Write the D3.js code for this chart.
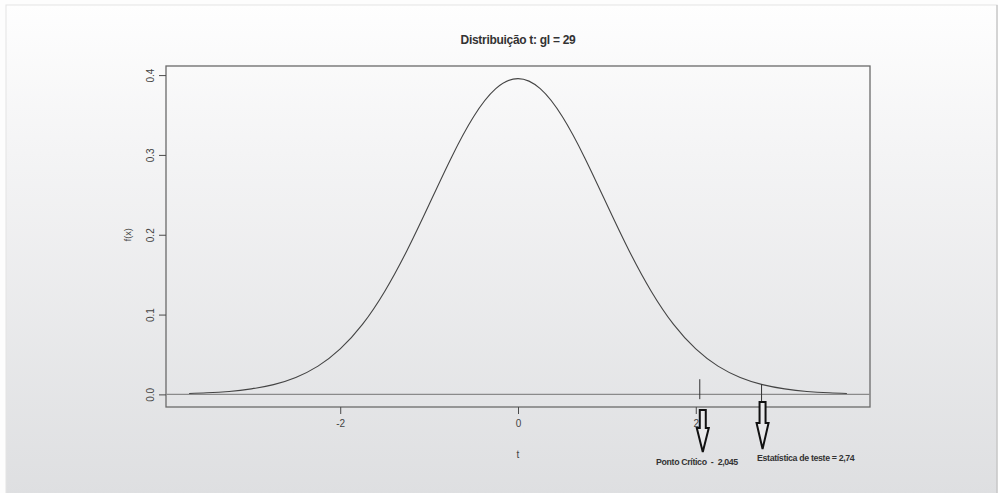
<!DOCTYPE html>
<html>
<head>
<meta charset="utf-8">
<script src="https://cdn.jsdelivr.net/npm/d3@7"></script>
<style>
  body { margin: 0; background: #fdfdfd; }
  text { font-family: "Liberation Sans", Arial, sans-serif; }
</style>
</head>
<body>
<div id="chart"></div>
<script>
// densidade t com gl = 29
const tValues = [-3.7, -3.5, -3.25, -3, -2.75, -2.5, -2.25, -2, -1.75, -1.5, -1.25, -1, -0.75, -0.5, -0.25, 0,
                 0.25, 0.5, 0.75, 1, 1.25, 1.5, 1.75, 2, 2.25, 2.5, 2.75, 3, 3.25, 3.5, 3.7]
const fValues = [0.0012, 0.0020, 0.0037, 0.0069, 0.0122, 0.0212, 0.0354, 0.0570, 0.0877, 0.1290, 0.1800, 0.2379, 0.2966, 0.3478, 0.3830, 0.3956,
                 0.3830, 0.3478, 0.2966, 0.2379, 0.1800, 0.1290, 0.0877, 0.0570, 0.0354, 0.0212, 0.0122, 0.0069, 0.0037, 0.0020, 0.0012]
const xTicks = [-2, 0, 2]
const yTicks = [0.0, 0.1, 0.2, 0.3, 0.4]
const markerLabels = ["Ponto Crítico  -  2,045", "Estatística de teste = 2,74"]
const markerValues = [2.045, 2.74]
const markerTops = [0.019, 0.0127]

const width = 998, height = 493
const svg = d3.select('#chart').append('svg')
  .attr('width', width).attr('height', height)

// fundo com gradiente
const defs = svg.append('defs')
const grad = defs.append('linearGradient').attr('id', 'bg')
  .attr('x1', 0).attr('y1', 0).attr('x2', 0).attr('y2', 1)
grad.append('stop').attr('offset', '0%').attr('stop-color', '#fefefe')
grad.append('stop').attr('offset', '30%').attr('stop-color', '#f4f4f5')
grad.append('stop').attr('offset', '100%').attr('stop-color', '#dedfe1')

svg.append('rect').attr('x', 6).attr('y', 5).attr('width', 991).attr('height', 490)
  .attr('fill', 'url(#bg)').attr('stroke', '#e4e4e4')
svg.append('line').attr('x1', 997).attr('x2', 997).attr('y1', 5).attr('y2', height)
  .attr('stroke', '#b8b8b8')

const plot = {left: 166, right: 870, top: 66, bottom: 407}

const x = d3.scaleLinear().domain([-3.96, 3.96]).range([plot.left, plot.right])
const y = d3.scaleLinear().domain([-0.0158, 0.4114]).range([plot.bottom, plot.top])

const ink = '#4a4a4a'

// titulo
svg.append('text')
  .attr('x', (plot.left + plot.right) / 2).attr('y', 44)
  .attr('text-anchor', 'middle')
  .style('font-size', '12px').style('font-weight', 'bold')
  .style('letter-spacing', '-0.3px')
  .attr('fill', '#333')
  .text('Distribuição t: gl = 29')

// caixa
svg.append('rect')
  .attr('x', plot.left).attr('y', plot.top)
  .attr('width', plot.right - plot.left).attr('height', plot.bottom - plot.top)
  .attr('fill', 'none').attr('stroke', '#6a6a6a').attr('stroke-width', 1.3)

// eixo x
const xAxis = svg.append('g')
  .attr('transform', `translate(0,${plot.bottom})`)
  .call(d3.axisBottom(x).tickValues(xTicks).tickSize(7).tickPadding(6).tickFormat(d => String(d)))
xAxis.select('.domain').remove()
xAxis.selectAll('line').attr('stroke', ink)
xAxis.selectAll('text').attr('fill', '#444').style('font-size', '10px')

svg.append('text')
  .attr('x', x(0)).attr('y', 458)
  .attr('text-anchor', 'middle')
  .attr('fill', '#444').style('font-size', '10px')
  .text('t')

// eixo y
const yAxis = svg.append('g')
  .attr('transform', `translate(${plot.left},0)`)
  .call(d3.axisLeft(y).tickValues(yTicks).tickSize(7).tickFormat(d3.format('.1f')))
yAxis.select('.domain').remove()
yAxis.selectAll('line').attr('stroke', ink)
yAxis.selectAll('text')
  .attr('fill', '#444').style('font-size', '10px')
  .attr('text-anchor', 'middle')
  .attr('x', null).attr('dy', null)
  .attr('transform', 'translate(-15,0) rotate(-90)')
  .attr('y', 0)
  .attr('dominant-baseline', 'middle')

svg.append('text')
  .attr('transform', `translate(129,${y(0.2)}) rotate(-90)`)
  .attr('text-anchor', 'middle')
  .attr('dominant-baseline', 'middle')
  .attr('fill', '#444').style('font-size', '9px')
  .text('f(x)')

// linha em y = 0
svg.append('line')
  .attr('x1', plot.left).attr('x2', plot.right)
  .attr('y1', y(0)).attr('y2', y(0))
  .attr('stroke', '#8a8a8a').attr('stroke-width', 1.2)

// curva
const points = tValues.map((t, i) => [t, fValues[i]])
svg.append('path')
  .datum(points)
  .attr('fill', 'none')
  .attr('stroke', '#444')
  .attr('stroke-width', 1.1)
  .attr('d', d3.line().x(d => x(d[0])).y(d => y(d[1])).curve(d3.curveNatural))

// marcadores: linha vertical, seta e rotulo
const arrowTop = [410, 402]
const arrowHead = [428, 423]
const arrowTip = [452, 449]
const arrowDx = [3, 1]
const labelPos = [[656, 465], [757, 461]]

markerValues.forEach((v, i) => {
  const cx = x(v)
  svg.append('line')
    .attr('x1', cx).attr('x2', cx)
    .attr('y1', y(markerTops[i])).attr('y2', i === 0 ? y(-0.006) : arrowTop[i])
    .attr('stroke', '#333').attr('stroke-width', 1)

  const ax = cx + arrowDx[i]
  const sw = 3, hw = 6
  const pts = [
    [ax - sw, arrowTop[i]], [ax + sw, arrowTop[i]], [ax + sw, arrowHead[i]],
    [ax + hw, arrowHead[i]], [ax, arrowTip[i]], [ax - hw, arrowHead[i]],
    [ax - sw, arrowHead[i]]
  ]
  svg.append('path')
    .attr('d', d3.line()(pts) + 'Z')
    .attr('fill', '#e9e9ea')
    .attr('stroke', '#111')
    .attr('stroke-width', 2)
    .attr('stroke-linejoin', 'miter')

  svg.append('text')
    .attr('x', labelPos[i][0]).attr('y', labelPos[i][1])
    .attr('fill', '#333')
    .style('font-size', '8.8px').style('font-weight', 'bold')
    .style('letter-spacing', '-0.35px')
    .attr('xml:space', 'preserve')
    .text(markerLabels[i])
})
</script>
</body>
</html>
